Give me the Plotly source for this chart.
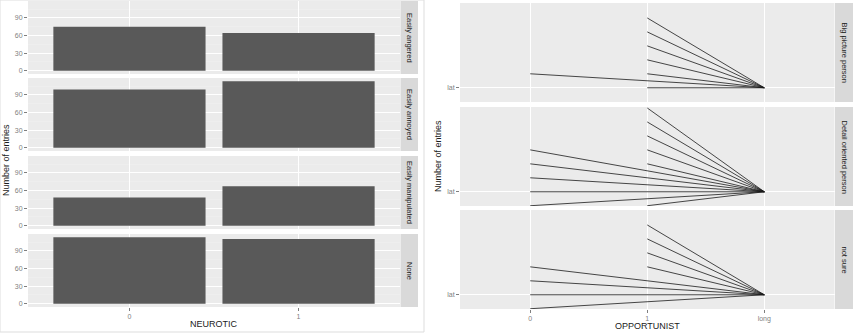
import plotly.graph_objects as go

# ---------------- data ----------------
neurotic_levels = ["0", "1"]
left_facets = ["Easily angered", "Easily annoyed", "Easily manipulated", "None"]
count_angered = [75, 64]
count_annoyed = [99, 113]
count_manipulated = [48, 67]
count_none = [113, 110]
left_counts = [count_angered, count_annoyed, count_manipulated, count_none]
left_yticks = [0, 30, 60, 90]

opportunist_levels = ["0", "1", "long"]
right_facets = ["Big picture person", "Detail oriented person", "not sure"]
start_at_0 = [[1], [3, 2, 1, 0, -1], [2, 1, 0, -1]]
start_at_1 = [[5, 4, 3, 2, 1, 0], [6, 5, 4, 3, 2, -1], [5, 4, 3, 2]]
end_value = 0
right_ytick_label = "lat"

# ---------------- layout helpers ----------------
W, H = 853, 334
def xp(px):
    return px / W
def yp(py):
    return 1 - py / H

FONT = "Liberation Sans, Arial, sans-serif"
PANEL_BG = "#EBEBEB"
STRIP_BG = "#D9D9D9"
GRID = "#FFFFFF"
TICK_COL = "#7F7F7F"

def label(x, y, text, size, angle=0, color="#1A1A1A"):
    return dict(xref="paper", yref="paper", x=xp(x), y=yp(y), text=text,
                textangle=angle, showarrow=False, xanchor="center", yanchor="middle",
                font=dict(size=size, color=color, family=FONT))

fig = go.Figure()
layout = dict(
    width=W, height=H, margin=dict(l=0, r=0, t=0, b=0),
    paper_bgcolor="white", plot_bgcolor=PANEL_BG, showlegend=False,
    font=dict(family=FONT, size=8, color="#333333"),
)
shapes = []
annotations = []

# left image border
shapes.append(dict(type="rect", xref="paper", yref="paper",
                   x0=xp(0), x1=xp(424), y0=yp(332), y1=yp(0),
                   line=dict(color="#DDDDDD", width=1), fillcolor="rgba(0,0,0,0)", layer="below"))

# ---------------- left: faceted bars ----------------
left_tops = [1, 78, 156, 234]
left_h = 73
LX0, LX1 = 28, 400
for i, (facet, vals) in enumerate(zip(left_facets, left_counts)):
    n = i + 1
    xa = f"xaxis{n}"
    ya = f"yaxis{n}"
    top, bot = left_tops[i], left_tops[i] + left_h
    fig.add_trace(go.Bar(x=neurotic_levels, y=vals, width=0.9,
                         marker=dict(color="#595959", line=dict(width=0)),
                         xaxis=f"x{n}", yaxis=f"y{n}", hoverinfo="skip"))
    last = (i == len(left_facets) - 1)
    layout[xa] = dict(domain=[xp(LX0), xp(LX1)], anchor=f"y{n}",
                      type="category", categoryorder="array", categoryarray=neurotic_levels,
                      range=[-0.6, 1.6], showgrid=True, gridcolor=GRID, gridwidth=1,
                      showticklabels=last, ticks="outside" if last else "",
                      ticklen=3, tickcolor=TICK_COL,
                      tickfont=dict(size=7, color=TICK_COL, family=FONT),
                      zeroline=False, showline=False, fixedrange=True)
    if i > 0:
        layout[xa]["matches"] = "x1"
    layout[ya] = dict(domain=[yp(bot), yp(top)], anchor=f"x{n}",
                      range=[-5.65, 118.65], tickvals=left_yticks,
                      showgrid=True, gridcolor=GRID, gridwidth=1,
                      minor=dict(dtick=15, tick0=15, showgrid=True, gridcolor="#F2F2F2", gridwidth=0.5),
                      ticks="outside", ticklen=3, tickcolor=TICK_COL,
                      tickfont=dict(size=7, color=TICK_COL, family=FONT),
                      zeroline=False, showline=False, fixedrange=True)
    shapes.append(dict(type="rect", xref="paper", yref="paper",
                       x0=xp(400.5), x1=xp(418), y0=yp(bot), y1=yp(top),
                       fillcolor=STRIP_BG, line=dict(width=0), layer="below"))
    annotations.append(label(409.5, (top + bot) / 2, facet, 7.5, angle=90))

annotations.append(label(214, 324, "NEUROTIC", 9))
annotations.append(label(6, 160, "Number of entries", 9, angle=-90))

# ---------------- right: faceted segments ----------------
right_tops = [3, 107, 210]
right_h = 99
RX0, RX1 = 460, 834.5
for j, facet in enumerate(right_facets):
    n = 5 + j
    xa = f"xaxis{n}"
    ya = f"yaxis{n}"
    top, bot = right_tops[j], right_tops[j] + right_h
    xs, ys = [], []
    for v in start_at_0[j]:
        xs += [opportunist_levels[0], opportunist_levels[2], None]
        ys += [v, end_value, None]
    for v in start_at_1[j]:
        xs += [opportunist_levels[1], opportunist_levels[2], None]
        ys += [v, end_value, None]
    fig.add_trace(go.Scatter(x=xs, y=ys, mode="lines",
                             line=dict(color="#1A1A1A", width=0.8),
                             xaxis=f"x{n}", yaxis=f"y{n}", hoverinfo="skip",
                             connectgaps=False))
    last = (j == len(right_facets) - 1)
    layout[xa] = dict(domain=[xp(RX0), xp(RX1)], anchor=f"y{n}",
                      type="category", categoryorder="array", categoryarray=opportunist_levels,
                      range=[-0.6, 2.6], showgrid=True, gridcolor=GRID, gridwidth=1.2,
                      showticklabels=last, ticks="outside" if last else "",
                      ticklen=3, tickcolor=TICK_COL,
                      tickfont=dict(size=7, color=TICK_COL, family=FONT),
                      zeroline=False, showline=False, fixedrange=True)
    if j > 0:
        layout[xa]["matches"] = "x5"
    layout[ya] = dict(domain=[yp(bot), yp(top)], anchor=f"x{n}",
                      range=[-1.02, 6.07], tickvals=[end_value], ticktext=[right_ytick_label],
                      showgrid=True, gridcolor=GRID, gridwidth=1.2,
                      ticks="outside", ticklen=3, tickcolor=TICK_COL,
                      tickfont=dict(size=7, color=TICK_COL, family=FONT),
                      zeroline=False, showline=False, fixedrange=True)
    shapes.append(dict(type="rect", xref="paper", yref="paper",
                       x0=xp(835), x1=xp(853), y0=yp(bot), y1=yp(top),
                       fillcolor=STRIP_BG, line=dict(width=0), layer="below"))
    annotations.append(label(844, (top + bot) / 2, facet, 7.5, angle=90))

annotations.append(label(647, 326, "OPPORTUNIST", 9))
annotations.append(label(438, 156, "Number of entries", 9, angle=-90))

layout["shapes"] = shapes
layout["annotations"] = annotations
fig.update_layout(**layout)
fig.write_html("out.html", config={"displayModeBar": False, "staticPlot": True},
               post_script="document.body.style.margin='0';document.body.style.overflow='hidden';")
